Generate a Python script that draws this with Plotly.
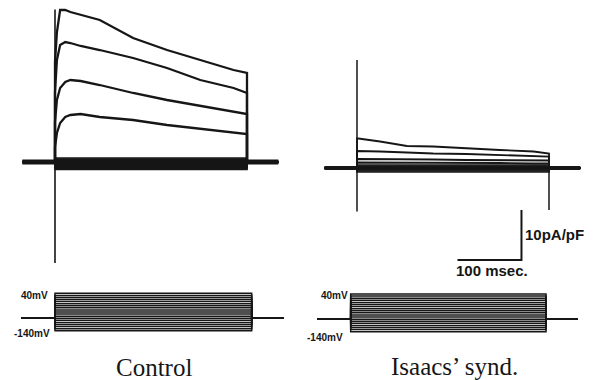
import plotly.graph_objects as go

W, H = 596, 380

# ---------------- data ----------------
# time points inside the 300 ms step (ms) and current density (pA/pF)
CTRL_T = [0, 3, 8, 16, 24, 40, 70, 122, 175, 227, 279, 300]
CTRL_I1 = [20.0, 26.0, 30.4, 30.4, 30.0, 29.4, 28.4, 24.8, 22.4, 20.4, 18.4, 17.8]
CTRL_I2 = [14.0, 20.4, 23.4, 24.0, 23.8, 23.2, 22.4, 20.8, 18.8, 16.4, 14.8, 13.8]
CTRL_I3 = [8.0, 12.4, 14.8, 16.0, 16.4, 16.2, 15.4, 13.8, 12.4, 11.2, 10.0, 9.6]
CTRL_I4 = [3.0, 5.8, 7.8, 9.0, 9.4, 9.6, 9.0, 8.4, 7.4, 6.6, 5.8, 5.6]
CTRL_SMALL = [0.8, 0.5, 0.3, 0.1, -0.1, -0.3, -0.5, -0.7, -0.9, -1.1, -1.3, -1.5, 0.6, -0.2, -0.8]

ISA_T = [0, 2, 36, 78, 119, 171, 223, 276, 300]
ISA_I1 = [5.9, 5.9, 5.3, 4.4, 4.3, 3.9, 3.6, 3.3, 2.9]
ISA_I2 = [3.4, 3.4, 3.3, 3.1, 2.9, 2.8, 2.6, 2.4, 2.3]
ISA_I3 = [1.8, 1.8, 1.8, 1.7, 1.7, 1.6, 1.6, 1.5, 1.5]
ISA_I4 = [1.1, 1.1, 1.1, 1.1, 1.0, 1.0, 1.0, 0.9, 0.9]
ISA_SMALL = [0.6, 0.4, 0.2, 0.0, -0.2, -0.4, -0.6, -0.8, 0.3, -0.3]

# capacitive transients (pA/pF)
CTRL_ON = [30.5, -20.2]
ISA_ON = [21.6, -8.7]
ISA_OFF = -8.4

# voltage protocol (mV, ms)
V_LEVELS = [-140, -130, -120, -110, -100, -90, -80, -70, -60, -50,
            -40, -30, -20, -10, 0, 10, 20, 30, 40]
V_HOLD = -80
STEP = 300
T_PRE, T_POST = -51, 349

# scale bar
SB_T = 100      # ms
SB_I = 10       # pA/pF
SB_T_END = 257  # ms (Isaacs time axis)
SB_I_TOP = -8.4 # pA/pF (Isaacs current axis)

INK = "#161616"

fig = go.Figure()


def add(x, y, xa, ya, w):
    fig.add_trace(go.Scatter(x=x, y=y, mode="lines", xaxis=xa, yaxis=ya,
                             line=dict(color=INK, width=w),
                             hoverinfo="skip", showlegend=False))


# ---- control currents ----
add([T_PRE, T_POST], [0, 0], "x", "y", 5)
for v in CTRL_SMALL:
    add([T_PRE, 0, 0, STEP, STEP, T_POST], [0, 0, v, v, 0, 0], "x", "y", 1.6)
for I in [CTRL_I1, CTRL_I2, CTRL_I3, CTRL_I4]:
    add([T_PRE, 0] + CTRL_T + [STEP, T_POST], [0, 0] + I + [0, 0], "x", "y", 2.3)
add([0, 0], CTRL_ON, "x", "y", 1.6)

# ---- Isaacs currents ----
add([T_PRE, T_POST], [0, 0], "x2", "y2", 4)
for v in ISA_SMALL:
    add([T_PRE, 0, 0, STEP, STEP, T_POST], [0, 0, v, v, 0, 0], "x2", "y2", 1.4)
for I in [ISA_I1, ISA_I2, ISA_I3, ISA_I4]:
    add([T_PRE, 0] + ISA_T + [STEP, T_POST], [0, 0] + I + [0, 0], "x2", "y2", 1.8)
add([0, 0], ISA_ON, "x2", "y2", 1.5)
add([STEP, STEP], [0, ISA_OFF], "x2", "y2", 1.5)

# scale bar
add([SB_T_END - SB_T, SB_T_END, SB_T_END],
    [SB_I_TOP - SB_I, SB_I_TOP - SB_I, SB_I_TOP], "x2", "y2", 2)

# ---- voltage protocols ----
for xa, ya in [("x3", "y3"), ("x4", "y4")]:
    for v in V_LEVELS:
        add([T_PRE, 0, 0, STEP, STEP, T_POST],
            [V_HOLD, V_HOLD, v, v, V_HOLD, V_HOLD], xa, ya, 1.5)


# ---------------- axes: pixel mapping ----------------
def xr(px0, s):
    return [(0 - px0) / s, (W - px0) / s]


def yr(py0, v0, s):
    return [v0 + (py0 - H) / s, v0 + py0 / s]


ax = dict(visible=False, showgrid=False, zeroline=False, domain=[0, 1], fixedrange=True)
layout_axes = {
    "xaxis": dict(ax, range=xr(55, 0.64), anchor="y"),
    "yaxis": dict(ax, range=yr(162, 0, 5), anchor="x"),
    "xaxis2": dict(ax, range=xr(357, 0.64), anchor="y2"),
    "yaxis2": dict(ax, range=yr(168, 0, 5), anchor="x2"),
    "xaxis3": dict(ax, range=xr(55, 0.6557), anchor="y3"),
    "yaxis3": dict(ax, range=yr(293.3, 40, 0.2078), anchor="x3"),
    "xaxis4": dict(ax, range=xr(350.7, 0.651), anchor="y4"),
    "yaxis4": dict(ax, range=yr(294, 40, 0.2094), anchor="x4"),
}

sans = "Liberation Sans, Arial, sans-serif"
serif = "Liberation Serif, Times New Roman, serif"
annots = [
    dict(text="<b>40mV</b>", x=0, y=40, xref="x3", yref="y3", xanchor="right",
         yanchor="middle", xshift=-6, yshift=-2, font=dict(family=sans, size=10, color=INK)),
    dict(text="<b>-140mV</b>", x=0, y=-140, xref="x3", yref="y3", xanchor="right",
         yanchor="middle", xshift=-4, yshift=-3, font=dict(family=sans, size=10, color=INK)),
    dict(text="<b>40mV</b>", x=0, y=40, xref="x4", yref="y4", xanchor="right",
         yanchor="middle", xshift=-2, yshift=-1, font=dict(family=sans, size=10, color=INK)),
    dict(text="<b>-140mV</b>", x=0, y=-140, xref="x4", yref="y4", xanchor="right",
         yanchor="middle", xshift=-7, yshift=-6, font=dict(family=sans, size=10, color=INK)),
    dict(text="<b>10pA/pF</b>", x=SB_T_END, y=SB_I_TOP - SB_I / 2, xref="x2", yref="y2",
         xanchor="left", yanchor="middle", xshift=3, yshift=1,
         font=dict(family=sans, size=15, color=INK)),
    dict(text="<b>100 msec.</b>", x=SB_T_END - SB_T, y=SB_I_TOP - SB_I, xref="x2", yref="y2",
         xanchor="left", yanchor="top", xshift=-2, yshift=-1,
         font=dict(family=sans, size=15, color=INK)),
    dict(text="Control", x=154 / W, y=1 - 367 / H, xref="paper", yref="paper",
         xanchor="center", yanchor="middle", font=dict(family=serif, size=25, color=INK)),
    dict(text="Isaacs\u2019 synd.", x=454 / W, y=1 - 366 / H, xref="paper", yref="paper",
         xanchor="center", yanchor="middle", font=dict(family=serif, size=25, color=INK)),
]
for a in annots:
    a["showarrow"] = False
    a["borderpad"] = 0

fig.update_layout(width=W, height=H, margin=dict(l=0, r=0, t=0, b=0, pad=0),
                  paper_bgcolor="white", plot_bgcolor="rgba(0,0,0,0)",
                  annotations=annots, **layout_axes)

fig.write_html("out.html", config={"displayModeBar": False})
